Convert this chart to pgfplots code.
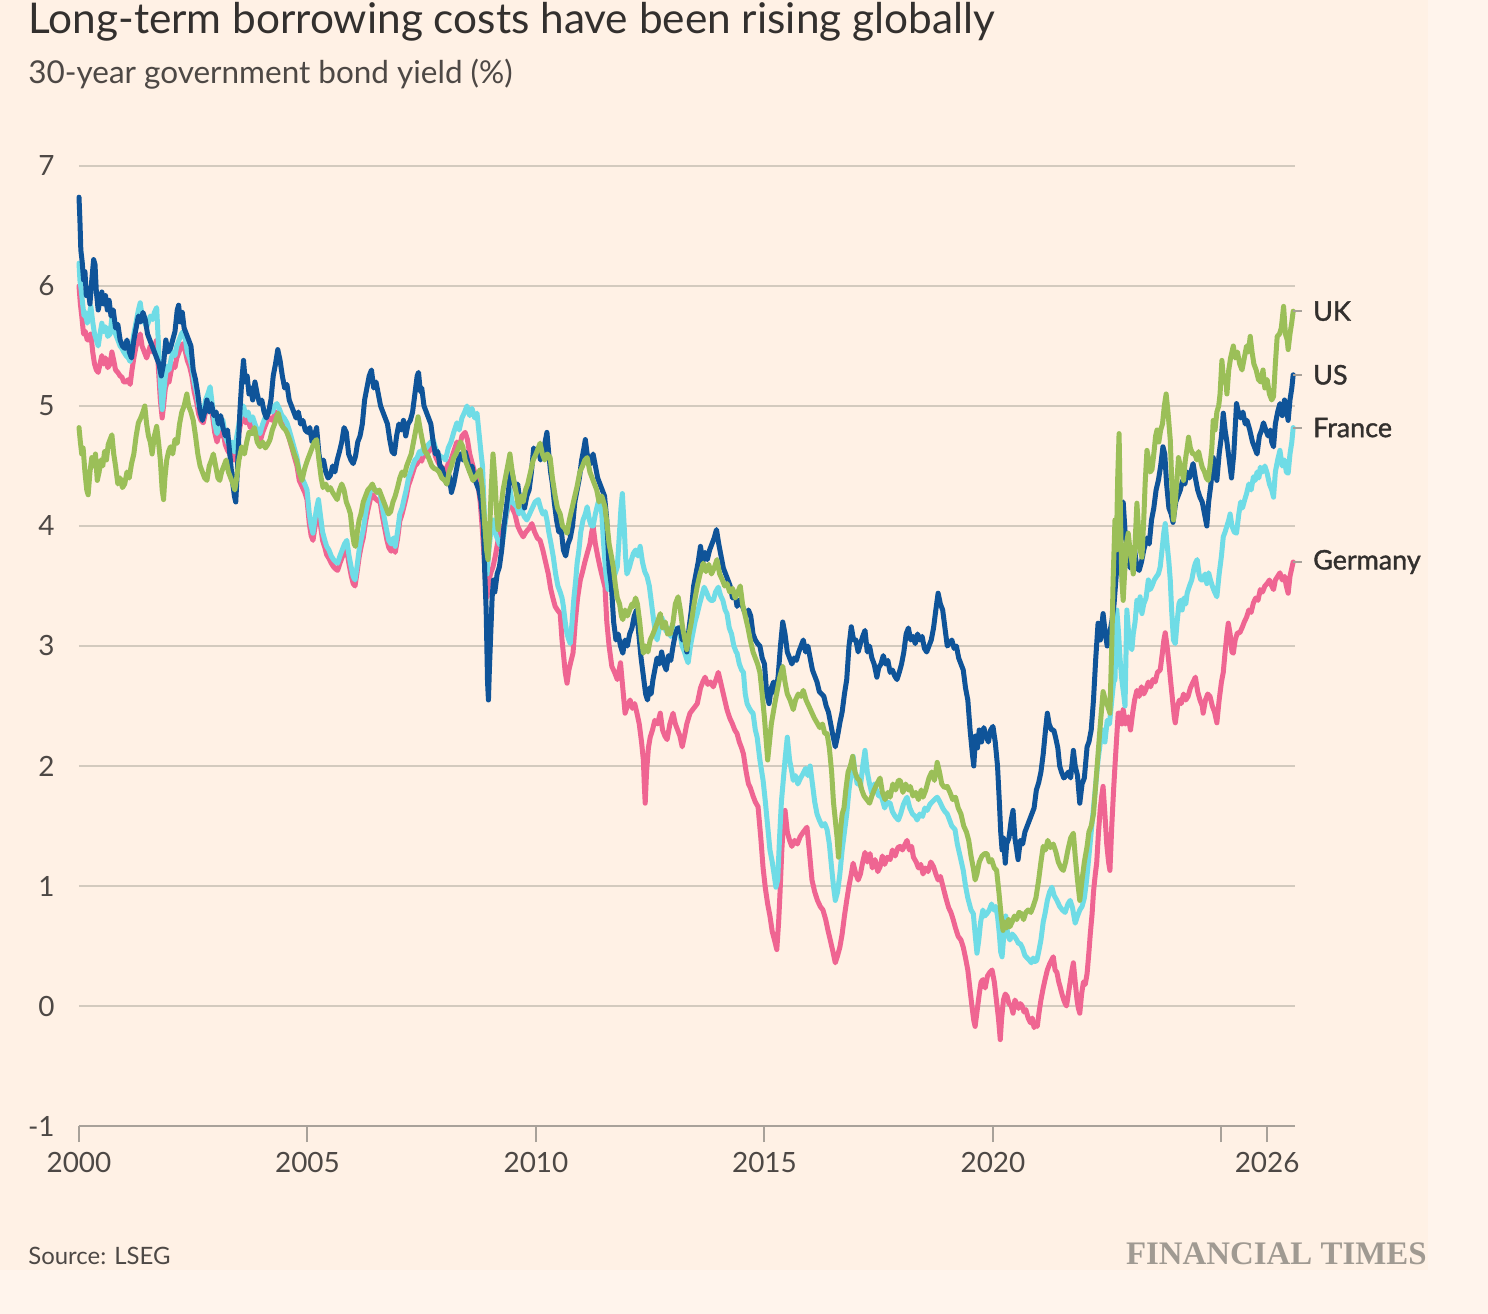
\documentclass[border=0pt]{standalone}
\usepackage{pgfplots}
\pgfplotsset{compat=1.18}
\usepackage{fontspec}
\setmainfont{Lato}
\newfontfamily\semib{Lato}[FakeBold=1.4]
\newfontfamily\ftfont{Liberation Serif}
\definecolor{bg}{HTML}{FFF1E5}
\definecolor{bgout}{HTML}{FFF4EC}
\definecolor{usc}{HTML}{0F5499}
\definecolor{ukc}{HTML}{9BBF58}
\definecolor{frc}{HTML}{6FDCE6}
\definecolor{dec}{HTML}{EF6592}
\definecolor{gridc}{HTML}{D3CABE}
\definecolor{axc}{HTML}{A8A199}
\definecolor{txt}{HTML}{33302E}
\definecolor{txt2}{HTML}{4D4845}
\definecolor{ftc}{HTML}{A09A92}
\begin{document}
\begin{tikzpicture}
\fill[bgout] (0,0) rectangle (744bp,657bp);
\fill[bg] (0,22bp) rectangle (714bp,657bp);
\node[anchor=base west, inner sep=0pt, text=txt, font=\fontsize{21.25}{25}\selectfont] at (14bp,640bp) {Long-term borrowing costs have been rising globally};
\node[anchor=base west, inner sep=0pt, text=txt2, font=\fontsize{15.8}{19}\selectfont] at (14bp,615bp) {30-year government bond yield (\%)};
\node[anchor=base west, inner sep=0pt, text=txt2, font=\fontsize{12}{14}\selectfont] at (14bp,25bp) {Source: LSEG};
\node[anchor=base east, inner sep=0pt, text=ftc, font=\ftfont\bfseries\fontsize{16.5}{19}\selectfont] at (713.5bp,25bp) {FINANCIAL TIMES};
\begin{axis}[
  at={(39.5bp,94bp)}, anchor=south west,
  scale only axis, width=608bp, height=480bp,
  x filter/.expression={x-2000},
  xmin=0, xmax=26.61, ymin=-1, ymax=7,
  clip=false,
  axis x line*=bottom, axis y line*=left,
  x axis line style={draw=axc, line width=1.1bp},
  y axis line style={draw=none},
  xtick={0,5,10,15,20,25,26},
  xticklabels={2000,2005,2010,2015,2020,,2026},
  ytick={-1,0,1,2,3,4,5,6,7},
  yticklabels={-1,0,1,2,3,4,5,6,7},
  tick align=outside,
  major tick length=8bp,
  xtick style={draw=axc, line width=1bp},
  ytick style={draw=none},
  ymajorgrids, grid style={draw=gridc, line width=1bp},
  ticklabel style={font=\fontsize{14}{16}\selectfont, text=txt2},
  xticklabel style={anchor=north, inner sep=0pt, yshift=-5bp},
  yticklabel style={anchor=east, inner sep=0pt, xshift=-4bp},
  every axis plot/.append style={line width=2.5bp, line join=round, line cap=round, mark=none},
]
% Germany
\addplot[dec] coordinates {(2000.00,6.00)(2000.03,5.85)(2000.06,5.75)(2000.10,5.60)(2000.14,5.62)(2000.18,5.55)(2000.22,5.55)(2000.26,5.60)(2000.30,5.45)(2000.34,5.35)(2000.38,5.30)(2000.42,5.28)(2000.46,5.35)(2000.50,5.42)(2000.54,5.35)(2000.58,5.40)(2000.63,5.32)(2000.68,5.35)(2000.72,5.45)(2000.76,5.38)(2000.80,5.30)(2000.85,5.28)(2000.90,5.25)(2000.94,5.24)(2000.98,5.20)(2001.03,5.20)(2001.08,5.22)(2001.12,5.18)(2001.16,5.30)(2001.20,5.40)(2001.25,5.50)(2001.30,5.55)(2001.34,5.60)(2001.38,5.50)(2001.43,5.45)(2001.48,5.40)(2001.52,5.45)(2001.56,5.50)(2001.61,5.45)(2001.65,5.50)(2001.70,5.55)(2001.74,5.30)(2001.78,5.05)(2001.82,4.90)(2001.85,5.00)(2001.89,5.15)(2001.93,5.20)(2001.97,5.20)(2002.02,5.30)(2002.06,5.35)(2002.10,5.32)(2002.14,5.40)(2002.19,5.45)(2002.24,5.50)(2002.28,5.52)(2002.33,5.45)(2002.37,5.38)(2002.42,5.33)(2002.47,5.25)(2002.52,5.12)(2002.58,5.02)(2002.62,4.93)(2002.67,4.88)(2002.72,4.86)(2002.77,4.95)(2002.82,5.00)(2002.87,5.05)(2002.92,4.92)(2002.97,4.78)(2003.02,4.70)(2003.07,4.78)(2003.11,4.75)(2003.15,4.80)(2003.20,4.68)(2003.25,4.63)(2003.30,4.60)(2003.35,4.63)(2003.40,4.55)(2003.45,4.68)(2003.50,4.78)(2003.55,4.88)(2003.60,4.93)(2003.65,4.86)(2003.70,4.88)(2003.75,4.82)(2003.80,4.85)(2003.85,4.78)(2003.90,4.74)(2003.96,4.70)(2004.02,4.78)(2004.07,4.83)(2004.12,4.88)(2004.18,4.90)(2004.23,4.88)(2004.28,4.93)(2004.33,4.95)(2004.38,4.91)(2004.44,4.85)(2004.49,4.83)(2004.55,4.79)(2004.60,4.73)(2004.66,4.65)(2004.71,4.58)(2004.77,4.50)(2004.82,4.38)(2004.88,4.33)(2004.94,4.28)(2004.99,4.22)(2005.04,4.02)(2005.08,3.92)(2005.12,3.88)(2005.16,3.98)(2005.20,4.08)(2005.24,4.12)(2005.28,4.02)(2005.33,3.88)(2005.38,3.82)(2005.42,3.76)(2005.47,3.73)(2005.52,3.69)(2005.57,3.66)(2005.62,3.64)(2005.66,3.63)(2005.71,3.69)(2005.76,3.74)(2005.81,3.78)(2005.86,3.80)(2005.91,3.68)(2005.96,3.58)(2006.00,3.52)(2006.04,3.50)(2006.08,3.60)(2006.13,3.74)(2006.18,3.84)(2006.22,3.90)(2006.27,4.03)(2006.32,4.13)(2006.38,4.23)(2006.43,4.26)(2006.48,4.23)(2006.54,4.21)(2006.59,4.20)(2006.64,4.08)(2006.69,3.98)(2006.74,3.88)(2006.78,3.82)(2006.83,3.79)(2006.88,3.84)(2006.92,3.78)(2006.97,3.89)(2007.02,4.04)(2007.07,4.10)(2007.11,4.16)(2007.16,4.24)(2007.21,4.34)(2007.25,4.38)(2007.30,4.44)(2007.35,4.50)(2007.40,4.52)(2007.45,4.56)(2007.50,4.54)(2007.54,4.60)(2007.60,4.58)(2007.65,4.62)(2007.70,4.64)(2007.75,4.66)(2007.80,4.58)(2007.86,4.53)(2007.91,4.50)(2007.97,4.48)(2008.02,4.45)(2008.08,4.52)(2008.14,4.55)(2008.20,4.62)(2008.27,4.70)(2008.32,4.65)(2008.38,4.75)(2008.45,4.78)(2008.50,4.72)(2008.55,4.60)(2008.62,4.50)(2008.68,4.42)(2008.72,4.38)(2008.78,4.20)(2008.83,3.95)(2008.89,3.60)(2008.93,3.41)(2008.97,3.55)(2009.02,3.62)(2009.06,3.66)(2009.11,3.75)(2009.17,3.88)(2009.22,3.95)(2009.28,4.00)(2009.32,4.02)(2009.38,4.15)(2009.43,4.22)(2009.48,4.15)(2009.54,4.10)(2009.60,4.00)(2009.66,3.95)(2009.72,3.91)(2009.78,3.95)(2009.85,3.98)(2009.91,4.02)(2009.97,3.95)(2010.03,3.90)(2010.09,3.88)(2010.15,3.80)(2010.21,3.70)(2010.27,3.60)(2010.32,3.48)(2010.37,3.40)(2010.42,3.33)(2010.47,3.30)(2010.53,3.27)(2010.57,3.05)(2010.61,2.90)(2010.64,2.78)(2010.68,2.69)(2010.72,2.80)(2010.77,2.88)(2010.81,2.94)(2010.86,3.20)(2010.91,3.40)(2010.97,3.55)(2011.02,3.62)(2011.07,3.70)(2011.12,3.77)(2011.18,3.85)(2011.22,3.95)(2011.25,4.00)(2011.30,3.85)(2011.35,3.75)(2011.40,3.66)(2011.45,3.58)(2011.51,3.49)(2011.55,3.20)(2011.60,3.00)(2011.66,2.83)(2011.72,2.78)(2011.78,2.72)(2011.82,2.80)(2011.85,2.86)(2011.90,2.65)(2011.95,2.44)(2012.00,2.50)(2012.06,2.55)(2012.11,2.48)(2012.16,2.52)(2012.21,2.44)(2012.26,2.35)(2012.31,2.20)(2012.35,2.05)(2012.37,1.85)(2012.39,1.69)(2012.42,1.95)(2012.46,2.15)(2012.50,2.24)(2012.55,2.30)(2012.60,2.38)(2012.66,2.35)(2012.72,2.44)(2012.77,2.30)(2012.82,2.25)(2012.87,2.22)(2012.93,2.35)(2013.00,2.44)(2013.05,2.35)(2013.10,2.30)(2013.15,2.25)(2013.20,2.16)(2013.25,2.25)(2013.30,2.35)(2013.37,2.44)(2013.45,2.48)(2013.53,2.52)(2013.60,2.65)(2013.65,2.70)(2013.70,2.74)(2013.76,2.68)(2013.82,2.70)(2013.88,2.66)(2013.94,2.72)(2013.99,2.78)(2014.04,2.70)(2014.10,2.60)(2014.18,2.47)(2014.24,2.40)(2014.30,2.35)(2014.35,2.30)(2014.40,2.27)(2014.45,2.20)(2014.50,2.15)(2014.54,2.10)(2014.60,1.95)(2014.65,1.85)(2014.69,1.82)(2014.75,1.75)(2014.80,1.70)(2014.86,1.66)(2014.92,1.40)(2014.97,1.15)(2015.02,0.98)(2015.07,0.85)(2015.12,0.75)(2015.17,0.62)(2015.22,0.55)(2015.27,0.47)(2015.31,0.70)(2015.34,0.94)(2015.38,1.30)(2015.42,1.55)(2015.45,1.63)(2015.50,1.45)(2015.55,1.38)(2015.60,1.33)(2015.66,1.38)(2015.72,1.35)(2015.78,1.41)(2015.85,1.45)(2015.93,1.49)(2015.98,1.30)(2016.04,1.05)(2016.10,0.95)(2016.16,0.88)(2016.22,0.83)(2016.28,0.80)(2016.34,0.72)(2016.39,0.63)(2016.44,0.55)(2016.50,0.45)(2016.55,0.36)(2016.60,0.42)(2016.65,0.49)(2016.70,0.60)(2016.75,0.75)(2016.80,0.88)(2016.85,1.00)(2016.90,1.10)(2016.94,1.19)(2017.00,1.10)(2017.05,1.05)(2017.10,1.10)(2017.15,1.20)(2017.20,1.28)(2017.25,1.20)(2017.31,1.27)(2017.36,1.15)(2017.42,1.22)(2017.48,1.12)(2017.53,1.16)(2017.58,1.25)(2017.63,1.18)(2017.69,1.24)(2017.75,1.22)(2017.80,1.30)(2017.86,1.25)(2017.92,1.32)(2017.97,1.33)(2018.02,1.30)(2018.08,1.35)(2018.12,1.38)(2018.17,1.30)(2018.22,1.33)(2018.26,1.24)(2018.32,1.20)(2018.37,1.15)(2018.42,1.18)(2018.47,1.10)(2018.52,1.15)(2018.58,1.12)(2018.64,1.20)(2018.70,1.16)(2018.75,1.10)(2018.80,1.05)(2018.85,1.08)(2018.91,0.99)(2018.97,0.90)(2019.03,0.82)(2019.08,0.78)(2019.13,0.72)(2019.18,0.65)(2019.24,0.58)(2019.30,0.55)(2019.35,0.49)(2019.40,0.40)(2019.45,0.30)(2019.50,0.13)(2019.54,0.00)(2019.58,-0.12)(2019.61,-0.17)(2019.65,-0.05)(2019.70,0.10)(2019.74,0.20)(2019.78,0.22)(2019.83,0.15)(2019.88,0.25)(2019.93,0.28)(2019.98,0.30)(2020.03,0.20)(2020.06,0.10)(2020.09,0.00)(2020.12,-0.10)(2020.16,-0.28)(2020.19,-0.10)(2020.23,0.05)(2020.27,0.10)(2020.31,0.08)(2020.35,0.02)(2020.40,0.00)(2020.44,-0.06)(2020.48,0.05)(2020.52,0.02)(2020.56,-0.02)(2020.60,0.02)(2020.64,0.00)(2020.68,-0.05)(2020.72,-0.03)(2020.77,-0.10)(2020.82,-0.14)(2020.86,-0.10)(2020.90,-0.18)(2020.94,-0.15)(2020.97,-0.17)(2021.01,-0.05)(2021.05,0.05)(2021.10,0.15)(2021.14,0.22)(2021.19,0.30)(2021.24,0.35)(2021.28,0.38)(2021.32,0.41)(2021.36,0.30)(2021.40,0.28)(2021.44,0.20)(2021.47,0.16)(2021.51,0.10)(2021.55,0.05)(2021.58,0.02)(2021.61,0.00)(2021.65,0.10)(2021.69,0.20)(2021.73,0.30)(2021.76,0.36)(2021.80,0.20)(2021.84,0.05)(2021.87,-0.02)(2021.90,-0.06)(2021.94,0.10)(2021.98,0.20)(2022.02,0.18)(2022.06,0.27)(2022.10,0.45)(2022.13,0.60)(2022.17,0.77)(2022.20,0.95)(2022.24,1.10)(2022.27,1.19)(2022.31,1.45)(2022.35,1.65)(2022.38,1.75)(2022.41,1.83)(2022.45,1.60)(2022.49,1.35)(2022.53,1.20)(2022.56,1.13)(2022.60,1.50)(2022.64,1.80)(2022.67,2.00)(2022.71,2.25)(2022.74,2.44)(2022.78,2.44)(2022.82,2.35)(2022.85,2.47)(2022.90,2.35)(2022.96,2.41)(2023.01,2.30)(2023.06,2.45)(2023.10,2.55)(2023.15,2.63)(2023.20,2.58)(2023.25,2.66)(2023.30,2.60)(2023.34,2.63)(2023.40,2.70)(2023.45,2.66)(2023.50,2.72)(2023.55,2.70)(2023.60,2.78)(2023.66,2.80)(2023.71,2.95)(2023.74,3.05)(2023.77,3.11)(2023.81,3.00)(2023.85,2.86)(2023.89,2.70)(2023.93,2.55)(2023.97,2.40)(2023.99,2.36)(2024.04,2.50)(2024.08,2.55)(2024.12,2.52)(2024.17,2.60)(2024.22,2.55)(2024.27,2.58)(2024.32,2.65)(2024.38,2.70)(2024.43,2.74)(2024.48,2.62)(2024.53,2.55)(2024.58,2.50)(2024.60,2.44)(2024.65,2.55)(2024.70,2.60)(2024.75,2.58)(2024.80,2.50)(2024.85,2.45)(2024.90,2.36)(2024.95,2.55)(2025.00,2.70)(2025.04,2.78)(2025.08,2.95)(2025.12,3.10)(2025.15,3.19)(2025.19,3.10)(2025.23,2.95)(2025.26,2.94)(2025.30,3.05)(2025.35,3.11)(2025.40,3.11)(2025.45,3.15)(2025.50,3.20)(2025.55,3.24)(2025.60,3.30)(2025.65,3.28)(2025.70,3.36)(2025.75,3.40)(2025.80,3.38)(2025.85,3.47)(2025.90,3.45)(2025.95,3.50)(2026.00,3.52)(2026.05,3.55)(2026.10,3.50)(2026.14,3.47)(2026.18,3.55)(2026.23,3.58)(2026.28,3.61)(2026.33,3.55)(2026.38,3.58)(2026.42,3.50)(2026.46,3.44)(2026.50,3.58)(2026.54,3.65)(2026.57,3.70)};
% France
\addplot[frc] coordinates {(2000.00,6.19)(2000.02,6.05)(2000.05,5.96)(2000.08,5.85)(2000.11,5.75)(2000.14,5.78)(2000.18,5.69)(2000.22,5.75)(2000.26,5.83)(2000.30,5.70)(2000.34,5.60)(2000.38,5.55)(2000.42,5.50)(2000.46,5.60)(2000.50,5.69)(2000.54,5.62)(2000.58,5.66)(2000.63,5.58)(2000.68,5.60)(2000.72,5.74)(2000.76,5.65)(2000.80,5.60)(2000.85,5.55)(2000.90,5.50)(2000.94,5.48)(2000.98,5.45)(2001.03,5.42)(2001.08,5.40)(2001.12,5.37)(2001.16,5.50)(2001.20,5.60)(2001.25,5.70)(2001.30,5.80)(2001.34,5.86)(2001.38,5.75)(2001.43,5.70)(2001.48,5.66)(2001.52,5.70)(2001.56,5.75)(2001.61,5.72)(2001.65,5.78)(2001.70,5.82)(2001.74,5.50)(2001.78,5.20)(2001.82,4.97)(2001.85,5.10)(2001.89,5.25)(2001.93,5.33)(2001.97,5.30)(2002.02,5.40)(2002.06,5.45)(2002.10,5.42)(2002.14,5.50)(2002.19,5.55)(2002.24,5.60)(2002.28,5.62)(2002.33,5.55)(2002.37,5.45)(2002.42,5.40)(2002.47,5.33)(2002.52,5.20)(2002.58,5.10)(2002.62,5.00)(2002.67,4.95)(2002.72,4.94)(2002.77,5.05)(2002.82,5.10)(2002.87,5.16)(2002.92,5.00)(2002.97,4.85)(2003.02,4.77)(2003.07,4.85)(2003.11,4.82)(2003.15,4.88)(2003.20,4.75)(2003.25,4.70)(2003.30,4.66)(2003.35,4.70)(2003.40,4.62)(2003.45,4.74)(2003.50,4.85)(2003.55,4.95)(2003.60,5.00)(2003.65,4.92)(2003.70,4.95)(2003.75,4.88)(2003.80,4.91)(2003.85,4.85)(2003.90,4.80)(2003.96,4.77)(2004.02,4.85)(2004.07,4.90)(2004.12,4.95)(2004.18,4.97)(2004.23,4.95)(2004.28,5.00)(2004.33,5.02)(2004.38,4.98)(2004.44,4.92)(2004.49,4.90)(2004.55,4.86)(2004.60,4.80)(2004.66,4.72)(2004.71,4.65)(2004.77,4.57)(2004.82,4.45)(2004.88,4.40)(2004.94,4.35)(2004.99,4.30)(2005.04,4.10)(2005.08,4.00)(2005.12,3.94)(2005.16,4.05)(2005.20,4.15)(2005.24,4.22)(2005.28,4.10)(2005.33,3.95)(2005.38,3.88)(2005.42,3.83)(2005.47,3.80)(2005.52,3.75)(2005.57,3.72)(2005.62,3.70)(2005.66,3.69)(2005.71,3.75)(2005.76,3.80)(2005.81,3.85)(2005.86,3.88)(2005.91,3.75)(2005.96,3.65)(2006.00,3.58)(2006.04,3.55)(2006.08,3.65)(2006.13,3.80)(2006.18,3.90)(2006.22,3.97)(2006.27,4.10)(2006.32,4.20)(2006.38,4.30)(2006.43,4.33)(2006.48,4.30)(2006.54,4.28)(2006.59,4.27)(2006.64,4.15)(2006.69,4.05)(2006.74,3.95)(2006.78,3.88)(2006.83,3.85)(2006.88,3.90)(2006.92,3.83)(2006.97,3.95)(2007.02,4.10)(2007.07,4.15)(2007.11,4.22)(2007.16,4.30)(2007.21,4.40)(2007.25,4.44)(2007.30,4.50)(2007.35,4.55)(2007.40,4.57)(2007.45,4.62)(2007.50,4.60)(2007.54,4.66)(2007.60,4.65)(2007.65,4.68)(2007.70,4.70)(2007.75,4.72)(2007.80,4.65)(2007.86,4.60)(2007.91,4.58)(2007.97,4.57)(2008.02,4.55)(2008.08,4.65)(2008.14,4.70)(2008.20,4.78)(2008.27,4.86)(2008.32,4.80)(2008.38,4.90)(2008.44,4.95)(2008.49,5.00)(2008.55,4.92)(2008.60,4.98)(2008.66,4.90)(2008.71,4.94)(2008.76,4.75)(2008.80,4.60)(2008.83,4.50)(2008.87,4.10)(2008.90,3.80)(2008.93,3.60)(2008.97,3.80)(2009.01,3.95)(2009.06,4.05)(2009.10,3.95)(2009.15,3.90)(2009.20,3.85)(2009.25,3.83)(2009.30,3.95)(2009.35,4.10)(2009.40,4.20)(2009.43,4.30)(2009.48,4.20)(2009.53,4.18)(2009.58,4.16)(2009.63,4.10)(2009.68,4.15)(2009.74,4.08)(2009.80,4.05)(2009.86,4.10)(2009.92,4.15)(2009.98,4.20)(2010.05,4.22)(2010.10,4.15)(2010.15,4.10)(2010.20,4.12)(2010.24,4.05)(2010.28,3.95)(2010.33,3.85)(2010.38,3.74)(2010.43,3.60)(2010.48,3.50)(2010.53,3.45)(2010.57,3.40)(2010.60,3.33)(2010.64,3.20)(2010.68,3.10)(2010.72,3.05)(2010.75,3.02)(2010.79,3.20)(2010.83,3.40)(2010.87,3.55)(2010.90,3.69)(2010.94,3.80)(2010.98,3.95)(2011.03,4.05)(2011.08,4.10)(2011.12,4.16)(2011.17,4.05)(2011.21,4.00)(2011.25,4.00)(2011.30,4.10)(2011.35,4.18)(2011.40,4.24)(2011.44,4.10)(2011.48,3.85)(2011.53,3.60)(2011.58,3.47)(2011.63,3.50)(2011.68,3.55)(2011.73,3.60)(2011.78,3.66)(2011.82,3.90)(2011.86,4.15)(2011.89,4.27)(2011.93,4.00)(2011.96,3.75)(2011.99,3.60)(2012.04,3.65)(2012.09,3.72)(2012.13,3.77)(2012.18,3.80)(2012.23,3.75)(2012.28,3.83)(2012.33,3.70)(2012.38,3.62)(2012.43,3.58)(2012.48,3.50)(2012.53,3.35)(2012.58,3.20)(2012.62,3.10)(2012.65,3.05)(2012.70,3.15)(2012.75,3.24)(2012.80,3.18)(2012.85,3.12)(2012.90,3.15)(2012.95,3.08)(2013.00,3.10)(2013.05,3.15)(2013.10,3.12)(2013.15,3.10)(2013.20,3.00)(2013.25,2.95)(2013.29,2.90)(2013.33,2.86)(2013.38,3.00)(2013.43,3.10)(2013.48,3.20)(2013.53,3.27)(2013.58,3.35)(2013.63,3.42)(2013.68,3.49)(2013.73,3.45)(2013.78,3.40)(2013.83,3.38)(2013.88,3.38)(2013.93,3.45)(2013.99,3.49)(2014.04,3.42)(2014.09,3.38)(2014.14,3.30)(2014.18,3.27)(2014.23,3.15)(2014.28,3.10)(2014.33,3.00)(2014.38,2.95)(2014.40,2.94)(2014.45,2.85)(2014.50,2.80)(2014.54,2.78)(2014.58,2.60)(2014.62,2.52)(2014.67,2.48)(2014.72,2.45)(2014.75,2.44)(2014.80,2.30)(2014.84,2.24)(2014.90,2.05)(2014.97,1.88)(2015.02,1.70)(2015.07,1.50)(2015.12,1.30)(2015.17,1.20)(2015.21,1.10)(2015.25,0.99)(2015.29,1.05)(2015.33,1.40)(2015.37,1.70)(2015.40,1.83)(2015.45,2.05)(2015.50,2.24)(2015.55,2.05)(2015.60,1.95)(2015.63,1.88)(2015.68,1.92)(2015.73,1.85)(2015.79,1.90)(2015.85,1.94)(2015.90,1.98)(2015.95,1.92)(2016.00,2.00)(2016.05,1.85)(2016.10,1.70)(2016.15,1.60)(2016.20,1.55)(2016.26,1.50)(2016.32,1.52)(2016.37,1.47)(2016.42,1.35)(2016.47,1.15)(2016.51,1.00)(2016.55,0.88)(2016.60,0.95)(2016.65,1.10)(2016.70,1.30)(2016.75,1.45)(2016.80,1.60)(2016.85,1.80)(2016.90,1.95)(2016.94,2.08)(2016.98,1.95)(2017.03,1.85)(2017.07,1.90)(2017.10,1.83)(2017.15,2.00)(2017.20,2.13)(2017.25,1.95)(2017.30,1.85)(2017.35,1.77)(2017.40,1.85)(2017.45,1.80)(2017.50,1.75)(2017.53,1.77)(2017.58,1.72)(2017.63,1.65)(2017.68,1.70)(2017.75,1.69)(2017.80,1.62)(2017.86,1.58)(2017.93,1.55)(2017.98,1.60)(2018.04,1.68)(2018.09,1.72)(2018.12,1.74)(2018.18,1.65)(2018.24,1.60)(2018.30,1.58)(2018.34,1.55)(2018.40,1.60)(2018.46,1.58)(2018.51,1.65)(2018.56,1.63)(2018.62,1.68)(2018.67,1.70)(2018.72,1.72)(2018.78,1.74)(2018.84,1.70)(2018.90,1.65)(2018.95,1.62)(2019.00,1.60)(2019.05,1.55)(2019.10,1.50)(2019.17,1.47)(2019.22,1.35)(2019.28,1.25)(2019.35,1.13)(2019.40,1.00)(2019.45,0.90)(2019.52,0.80)(2019.57,0.77)(2019.61,0.60)(2019.65,0.44)(2019.69,0.55)(2019.73,0.70)(2019.78,0.80)(2019.82,0.75)(2019.87,0.77)(2019.92,0.80)(2019.97,0.85)(2020.02,0.80)(2020.06,0.83)(2020.10,0.75)(2020.14,0.60)(2020.17,0.45)(2020.20,0.41)(2020.24,0.60)(2020.28,0.75)(2020.32,0.60)(2020.37,0.55)(2020.42,0.60)(2020.47,0.58)(2020.52,0.55)(2020.56,0.52)(2020.60,0.52)(2020.65,0.48)(2020.70,0.42)(2020.75,0.40)(2020.80,0.38)(2020.84,0.36)(2020.88,0.40)(2020.92,0.37)(2020.96,0.38)(2021.00,0.45)(2021.05,0.55)(2021.10,0.70)(2021.14,0.77)(2021.19,0.88)(2021.24,0.95)(2021.29,0.99)(2021.34,0.92)(2021.40,0.88)(2021.46,0.83)(2021.52,0.80)(2021.58,0.78)(2021.64,0.85)(2021.69,0.88)(2021.74,0.82)(2021.80,0.69)(2021.85,0.75)(2021.90,0.80)(2021.95,0.83)(2022.00,0.90)(2022.05,1.05)(2022.10,1.25)(2022.15,1.45)(2022.20,1.65)(2022.25,1.85)(2022.30,2.05)(2022.35,2.20)(2022.40,2.30)(2022.45,2.20)(2022.50,2.38)(2022.55,2.35)(2022.60,2.55)(2022.64,2.70)(2022.67,2.72)(2022.71,3.30)(2022.75,3.10)(2022.78,2.90)(2022.82,2.72)(2022.86,2.60)(2022.89,2.50)(2022.93,3.30)(2022.97,3.10)(2023.00,3.00)(2023.04,2.97)(2023.07,3.10)(2023.11,3.20)(2023.15,3.38)(2023.19,3.30)(2023.22,3.41)(2023.26,3.27)(2023.30,3.35)(2023.35,3.40)(2023.40,3.55)(2023.44,3.47)(2023.48,3.50)(2023.53,3.55)(2023.58,3.58)(2023.62,3.60)(2023.66,3.66)(2023.70,3.80)(2023.74,3.95)(2023.77,4.02)(2023.81,3.85)(2023.85,3.70)(2023.88,3.55)(2023.91,3.30)(2023.95,3.05)(2023.99,3.02)(2024.03,3.20)(2024.07,3.35)(2024.10,3.38)(2024.14,3.30)(2024.18,3.40)(2024.22,3.35)(2024.25,3.44)(2024.30,3.50)(2024.35,3.55)(2024.40,3.65)(2024.43,3.69)(2024.47,3.72)(2024.51,3.60)(2024.55,3.55)(2024.60,3.55)(2024.64,3.60)(2024.68,3.52)(2024.72,3.61)(2024.76,3.55)(2024.80,3.50)(2024.85,3.45)(2024.90,3.41)(2024.95,3.60)(2025.00,3.75)(2025.04,3.91)(2025.08,3.95)(2025.12,4.00)(2025.16,4.05)(2025.19,4.10)(2025.23,4.00)(2025.28,3.95)(2025.33,3.94)(2025.38,4.10)(2025.42,4.20)(2025.46,4.15)(2025.51,4.22)(2025.55,4.27)(2025.60,4.35)(2025.65,4.30)(2025.70,4.41)(2025.74,4.38)(2025.78,4.45)(2025.82,4.40)(2025.85,4.49)(2025.90,4.45)(2025.95,4.50)(2026.00,4.44)(2026.05,4.35)(2026.10,4.30)(2026.14,4.24)(2026.18,4.45)(2026.23,4.55)(2026.28,4.63)(2026.33,4.50)(2026.38,4.55)(2026.42,4.45)(2026.46,4.44)(2026.50,4.60)(2026.54,4.70)(2026.57,4.82)};
% US
\addplot[usc] coordinates {(2000.00,6.74)(2000.02,6.55)(2000.04,6.30)(2000.07,6.20)(2000.10,6.05)(2000.13,6.12)(2000.16,5.92)(2000.20,5.98)(2000.24,5.85)(2000.28,6.05)(2000.32,6.22)(2000.35,6.18)(2000.38,5.95)(2000.42,5.80)(2000.46,5.88)(2000.50,5.95)(2000.54,5.85)(2000.58,5.92)(2000.62,5.80)(2000.66,5.88)(2000.70,5.75)(2000.75,5.80)(2000.80,5.65)(2000.85,5.68)(2000.90,5.55)(2000.95,5.50)(2001.00,5.48)(2001.05,5.55)(2001.10,5.45)(2001.15,5.40)(2001.20,5.55)(2001.25,5.65)(2001.30,5.75)(2001.35,5.70)(2001.40,5.78)(2001.45,5.72)(2001.50,5.60)(2001.55,5.55)(2001.60,5.50)(2001.65,5.45)(2001.70,5.40)(2001.75,5.35)(2001.80,5.25)(2001.85,5.35)(2001.90,5.55)(2001.95,5.45)(2002.00,5.48)(2002.05,5.55)(2002.10,5.62)(2002.15,5.80)(2002.18,5.84)(2002.22,5.70)(2002.26,5.78)(2002.30,5.65)(2002.35,5.60)(2002.40,5.55)(2002.45,5.50)(2002.50,5.30)(2002.55,5.22)(2002.60,5.10)(2002.65,4.95)(2002.70,4.88)(2002.75,4.95)(2002.80,5.05)(2002.85,4.95)(2002.90,5.02)(2002.95,4.92)(2003.00,4.95)(2003.05,4.85)(2003.10,4.92)(2003.15,4.82)(2003.20,4.75)(2003.25,4.80)(2003.30,4.60)(2003.35,4.40)(2003.40,4.25)(2003.43,4.20)(2003.47,4.50)(2003.52,4.95)(2003.56,5.20)(2003.60,5.38)(2003.64,5.20)(2003.68,5.25)(2003.72,5.10)(2003.76,5.15)(2003.80,5.05)(2003.85,5.20)(2003.90,5.10)(2003.95,5.02)(2004.00,5.05)(2004.05,4.95)(2004.10,4.90)(2004.15,4.95)(2004.20,5.05)(2004.25,5.25)(2004.30,5.35)(2004.35,5.47)(2004.40,5.38)(2004.45,5.25)(2004.50,5.15)(2004.55,5.18)(2004.60,5.05)(2004.65,5.00)(2004.70,4.95)(2004.75,4.90)(2004.80,4.95)(2004.85,4.85)(2004.90,4.88)(2004.95,4.80)(2005.00,4.78)(2005.05,4.82)(2005.10,4.70)(2005.15,4.75)(2005.20,4.82)(2005.25,4.60)(2005.30,4.50)(2005.35,4.55)(2005.40,4.45)(2005.45,4.40)(2005.50,4.42)(2005.55,4.50)(2005.60,4.45)(2005.65,4.55)(2005.70,4.62)(2005.75,4.70)(2005.80,4.82)(2005.85,4.78)(2005.90,4.60)(2005.95,4.55)(2006.00,4.52)(2006.05,4.58)(2006.10,4.70)(2006.15,4.75)(2006.20,4.85)(2006.25,5.05)(2006.30,5.15)(2006.35,5.25)(2006.40,5.30)(2006.45,5.15)(2006.50,5.20)(2006.55,5.10)(2006.60,5.00)(2006.65,4.95)(2006.70,4.90)(2006.75,4.85)(2006.80,4.72)(2006.85,4.62)(2006.90,4.60)(2006.95,4.75)(2007.00,4.85)(2007.05,4.80)(2007.10,4.88)(2007.15,4.75)(2007.20,4.85)(2007.25,4.88)(2007.30,4.95)(2007.35,5.10)(2007.40,5.25)(2007.43,5.28)(2007.47,5.12)(2007.50,5.15)(2007.55,5.00)(2007.60,4.95)(2007.65,4.90)(2007.70,4.85)(2007.75,4.70)(2007.80,4.60)(2007.85,4.62)(2007.90,4.50)(2007.95,4.48)(2008.00,4.40)(2008.05,4.35)(2008.10,4.42)(2008.15,4.28)(2008.20,4.35)(2008.25,4.45)(2008.30,4.55)(2008.35,4.60)(2008.40,4.55)(2008.45,4.62)(2008.50,4.55)(2008.55,4.45)(2008.60,4.50)(2008.65,4.40)(2008.70,4.35)(2008.75,4.30)(2008.80,4.20)(2008.85,4.00)(2008.88,3.60)(2008.91,3.30)(2008.94,2.70)(2008.96,2.55)(2008.98,2.80)(2009.01,3.10)(2009.04,3.40)(2009.07,3.55)(2009.10,3.45)(2009.15,3.60)(2009.20,3.66)(2009.25,3.80)(2009.30,4.00)(2009.35,4.15)(2009.40,4.30)(2009.45,4.50)(2009.50,4.40)(2009.55,4.30)(2009.60,4.35)(2009.65,4.20)(2009.70,4.25)(2009.75,4.15)(2009.80,4.25)(2009.85,4.30)(2009.90,4.45)(2009.95,4.65)(2010.00,4.60)(2010.05,4.65)(2010.10,4.55)(2010.15,4.60)(2010.20,4.70)(2010.24,4.78)(2010.28,4.60)(2010.32,4.45)(2010.36,4.35)(2010.40,4.20)(2010.45,4.05)(2010.50,3.95)(2010.55,3.98)(2010.60,3.80)(2010.65,3.75)(2010.70,3.85)(2010.75,3.90)(2010.80,4.00)(2010.85,4.20)(2010.90,4.30)(2010.95,4.40)(2011.00,4.55)(2011.05,4.65)(2011.08,4.72)(2011.12,4.60)(2011.16,4.55)(2011.20,4.52)(2011.25,4.60)(2011.30,4.50)(2011.35,4.40)(2011.40,4.35)(2011.45,4.30)(2011.50,4.25)(2011.55,4.05)(2011.60,3.65)(2011.65,3.50)(2011.70,3.20)(2011.75,3.05)(2011.80,3.10)(2011.85,3.00)(2011.90,2.94)(2011.95,3.05)(2012.00,3.00)(2012.05,3.10)(2012.10,3.15)(2012.15,3.25)(2012.20,3.30)(2012.25,3.10)(2012.30,2.90)(2012.35,2.75)(2012.40,2.60)(2012.44,2.55)(2012.48,2.65)(2012.52,2.60)(2012.56,2.72)(2012.60,2.80)(2012.65,2.90)(2012.70,2.85)(2012.75,2.95)(2012.80,2.85)(2012.85,2.80)(2012.90,2.92)(2012.95,2.88)(2013.00,3.00)(2013.05,3.10)(2013.10,3.15)(2013.15,3.15)(2013.20,3.05)(2013.25,3.10)(2013.30,2.95)(2013.35,3.15)(2013.40,3.30)(2013.45,3.50)(2013.50,3.60)(2013.55,3.70)(2013.60,3.83)(2013.65,3.70)(2013.70,3.78)(2013.75,3.72)(2013.80,3.80)(2013.85,3.85)(2013.90,3.90)(2013.95,3.97)(2014.00,3.85)(2014.05,3.75)(2014.10,3.65)(2014.15,3.60)(2014.20,3.55)(2014.25,3.50)(2014.30,3.40)(2014.35,3.45)(2014.40,3.33)(2014.45,3.38)(2014.50,3.35)(2014.55,3.30)(2014.60,3.25)(2014.65,3.30)(2014.70,3.25)(2014.75,3.10)(2014.80,3.05)(2014.85,3.02)(2014.90,3.00)(2014.95,2.90)(2015.00,2.85)(2015.05,2.60)(2015.10,2.52)(2015.15,2.65)(2015.20,2.70)(2015.25,2.60)(2015.30,2.75)(2015.35,3.00)(2015.40,3.20)(2015.45,3.10)(2015.50,2.95)(2015.55,2.90)(2015.60,2.85)(2015.65,2.90)(2015.70,2.88)(2015.75,2.95)(2015.80,3.00)(2015.85,3.05)(2015.90,2.95)(2015.95,3.00)(2016.00,2.90)(2016.05,2.80)(2016.10,2.75)(2016.15,2.70)(2016.20,2.62)(2016.25,2.60)(2016.30,2.58)(2016.35,2.50)(2016.40,2.45)(2016.45,2.35)(2016.50,2.25)(2016.55,2.16)(2016.60,2.25)(2016.65,2.36)(2016.70,2.45)(2016.75,2.60)(2016.80,2.72)(2016.85,3.00)(2016.90,3.16)(2016.95,3.05)(2017.00,3.05)(2017.05,2.95)(2017.10,3.02)(2017.15,3.08)(2017.20,3.13)(2017.25,2.95)(2017.30,3.00)(2017.35,2.90)(2017.40,2.85)(2017.46,2.74)(2017.50,2.82)(2017.55,2.85)(2017.60,2.92)(2017.65,2.85)(2017.70,2.88)(2017.75,2.78)(2017.80,2.80)(2017.85,2.75)(2017.90,2.72)(2017.95,2.78)(2018.00,2.85)(2018.05,2.95)(2018.10,3.10)(2018.15,3.15)(2018.20,3.05)(2018.25,3.08)(2018.30,3.02)(2018.35,3.10)(2018.40,3.05)(2018.45,3.08)(2018.50,2.98)(2018.55,2.95)(2018.60,3.00)(2018.65,3.05)(2018.70,3.15)(2018.75,3.30)(2018.80,3.44)(2018.85,3.35)(2018.90,3.30)(2018.95,3.15)(2019.00,3.00)(2019.05,3.02)(2019.10,3.05)(2019.15,2.98)(2019.20,3.00)(2019.25,2.90)(2019.30,2.85)(2019.35,2.80)(2019.40,2.65)(2019.45,2.55)(2019.50,2.30)(2019.55,2.10)(2019.58,2.00)(2019.62,2.25)(2019.66,2.15)(2019.70,2.30)(2019.75,2.20)(2019.80,2.32)(2019.85,2.25)(2019.90,2.20)(2019.95,2.30)(2020.00,2.33)(2020.05,2.20)(2020.10,2.00)(2020.14,1.70)(2020.17,1.45)(2020.20,1.30)(2020.23,1.40)(2020.27,1.19)(2020.30,1.35)(2020.35,1.40)(2020.40,1.55)(2020.44,1.63)(2020.48,1.40)(2020.52,1.30)(2020.55,1.22)(2020.60,1.38)(2020.65,1.35)(2020.70,1.45)(2020.75,1.50)(2020.80,1.55)(2020.85,1.60)(2020.90,1.65)(2020.95,1.80)(2021.00,1.86)(2021.05,1.95)(2021.10,2.10)(2021.15,2.30)(2021.19,2.44)(2021.23,2.35)(2021.28,2.30)(2021.33,2.30)(2021.37,2.24)(2021.42,2.15)(2021.46,2.00)(2021.50,1.95)(2021.55,1.90)(2021.60,1.92)(2021.65,1.95)(2021.70,1.90)(2021.76,2.13)(2021.80,2.00)(2021.85,1.92)(2021.90,1.69)(2021.95,1.85)(2022.00,1.90)(2022.06,2.16)(2022.10,2.20)(2022.15,2.30)(2022.20,2.55)(2022.25,2.90)(2022.30,3.19)(2022.35,3.05)(2022.41,3.27)(2022.46,3.10)(2022.50,3.00)(2022.55,3.10)(2022.60,3.20)(2022.65,3.35)(2022.70,3.60)(2022.75,3.95)(2022.80,4.15)(2022.85,4.20)(2022.90,3.90)(2022.95,3.80)(2023.00,3.65)(2023.05,3.70)(2023.10,3.80)(2023.15,3.65)(2023.20,3.63)(2023.25,3.70)(2023.30,3.80)(2023.37,3.90)(2023.42,3.85)(2023.47,4.05)(2023.52,4.15)(2023.57,4.30)(2023.62,4.38)(2023.67,4.50)(2023.72,4.66)(2023.76,4.60)(2023.80,4.35)(2023.85,4.15)(2023.90,4.10)(2023.94,4.03)(2024.00,4.20)(2024.05,4.25)(2024.10,4.30)(2024.15,4.38)(2024.20,4.35)(2024.25,4.45)(2024.30,4.40)(2024.38,4.52)(2024.43,4.40)(2024.48,4.30)(2024.53,4.24)(2024.58,4.20)(2024.63,4.10)(2024.68,4.00)(2024.72,4.20)(2024.77,4.35)(2024.82,4.57)(2024.86,4.45)(2024.90,4.38)(2024.95,4.60)(2025.00,4.75)(2025.04,4.94)(2025.08,4.80)(2025.12,4.70)(2025.17,4.55)(2025.22,4.40)(2025.27,4.60)(2025.33,5.02)(2025.37,4.95)(2025.42,4.90)(2025.47,4.95)(2025.52,4.85)(2025.56,4.88)(2025.62,4.80)(2025.68,4.70)(2025.73,4.65)(2025.78,4.60)(2025.83,4.75)(2025.88,4.80)(2025.92,4.86)(2025.97,4.80)(2026.02,4.75)(2026.07,4.80)(2026.10,4.70)(2026.14,4.66)(2026.18,4.85)(2026.23,4.95)(2026.28,5.02)(2026.33,4.92)(2026.38,5.05)(2026.43,4.95)(2026.46,4.88)(2026.50,5.05)(2026.54,5.15)(2026.57,5.26)};
% UK
\addplot[ukc] coordinates {(2000.00,4.82)(2000.03,4.70)(2000.06,4.60)(2000.09,4.65)(2000.13,4.45)(2000.17,4.30)(2000.20,4.26)(2000.24,4.45)(2000.28,4.57)(2000.32,4.50)(2000.36,4.60)(2000.40,4.38)(2000.44,4.45)(2000.48,4.55)(2000.52,4.50)(2000.56,4.62)(2000.60,4.55)(2000.64,4.68)(2000.68,4.72)(2000.72,4.76)(2000.76,4.60)(2000.80,4.50)(2000.85,4.35)(2000.90,4.40)(2000.95,4.32)(2001.00,4.35)(2001.05,4.45)(2001.10,4.40)(2001.15,4.52)(2001.20,4.60)(2001.25,4.75)(2001.30,4.86)(2001.35,4.90)(2001.40,4.95)(2001.44,5.00)(2001.48,4.85)(2001.52,4.75)(2001.56,4.70)(2001.60,4.60)(2001.65,4.75)(2001.70,4.83)(2001.74,4.70)(2001.78,4.55)(2001.82,4.30)(2001.85,4.22)(2001.88,4.40)(2001.92,4.55)(2001.96,4.62)(2002.00,4.66)(2002.05,4.60)(2002.10,4.72)(2002.15,4.69)(2002.20,4.85)(2002.25,4.95)(2002.30,5.00)(2002.36,5.10)(2002.40,5.00)(2002.45,4.95)(2002.50,4.88)(2002.55,4.75)(2002.60,4.60)(2002.65,4.50)(2002.70,4.45)(2002.75,4.40)(2002.80,4.38)(2002.85,4.50)(2002.90,4.55)(2002.94,4.60)(2003.00,4.48)(2003.04,4.40)(2003.08,4.38)(2003.12,4.45)(2003.17,4.50)(2003.22,4.55)(2003.27,4.45)(2003.32,4.40)(2003.37,4.35)(2003.41,4.30)(2003.45,4.40)(2003.50,4.55)(2003.56,4.66)(2003.62,4.60)(2003.67,4.70)(2003.72,4.78)(2003.78,4.77)(2003.84,4.82)(2003.90,4.70)(2003.96,4.66)(2004.02,4.70)(2004.08,4.65)(2004.13,4.68)(2004.18,4.72)(2004.23,4.80)(2004.28,4.85)(2004.32,4.90)(2004.36,4.94)(2004.42,4.85)(2004.47,4.82)(2004.52,4.80)(2004.56,4.77)(2004.61,4.72)(2004.66,4.66)(2004.71,4.60)(2004.76,4.55)(2004.82,4.45)(2004.88,4.38)(2004.94,4.48)(2005.00,4.55)(2005.05,4.60)(2005.10,4.65)(2005.15,4.70)(2005.20,4.72)(2005.25,4.55)(2005.30,4.40)(2005.34,4.32)(2005.40,4.35)(2005.45,4.30)(2005.50,4.32)(2005.55,4.28)(2005.60,4.25)(2005.65,4.22)(2005.70,4.30)(2005.75,4.35)(2005.80,4.30)(2005.85,4.20)(2005.90,4.15)(2005.94,4.10)(2005.98,3.95)(2006.02,3.85)(2006.05,3.83)(2006.09,3.95)(2006.13,4.05)(2006.17,4.10)(2006.22,4.20)(2006.27,4.25)(2006.32,4.30)(2006.37,4.32)(2006.42,4.35)(2006.47,4.30)(2006.52,4.28)(2006.57,4.30)(2006.62,4.25)(2006.67,4.20)(2006.72,4.15)(2006.77,4.10)(2006.82,4.12)(2006.87,4.20)(2006.92,4.25)(2006.97,4.32)(2007.02,4.40)(2007.07,4.45)(2007.12,4.42)(2007.17,4.50)(2007.22,4.55)(2007.27,4.60)(2007.32,4.70)(2007.37,4.80)(2007.42,4.91)(2007.47,4.80)(2007.52,4.70)(2007.57,4.62)(2007.62,4.60)(2007.67,4.55)(2007.72,4.50)(2007.77,4.48)(2007.83,4.47)(2007.88,4.45)(2007.94,4.40)(2008.00,4.38)(2008.05,4.35)(2008.10,4.45)(2008.15,4.50)(2008.20,4.57)(2008.25,4.60)(2008.30,4.65)(2008.35,4.70)(2008.40,4.66)(2008.45,4.55)(2008.50,4.50)(2008.55,4.45)(2008.62,4.38)(2008.70,4.42)(2008.78,4.47)(2008.83,4.30)(2008.88,4.00)(2008.92,3.80)(2008.95,3.72)(2008.98,3.90)(2009.02,4.30)(2009.06,4.60)(2009.10,4.40)(2009.14,4.10)(2009.17,3.97)(2009.21,4.10)(2009.25,4.20)(2009.28,4.30)(2009.33,4.40)(2009.38,4.50)(2009.43,4.60)(2009.48,4.45)(2009.53,4.35)(2009.58,4.25)(2009.62,4.16)(2009.67,4.25)(2009.72,4.20)(2009.77,4.30)(2009.82,4.35)(2009.88,4.45)(2009.94,4.55)(2010.00,4.60)(2010.05,4.65)(2010.09,4.69)(2010.14,4.60)(2010.19,4.55)(2010.25,4.60)(2010.31,4.57)(2010.36,4.40)(2010.42,4.25)(2010.47,4.15)(2010.53,4.10)(2010.58,4.00)(2010.63,3.98)(2010.68,3.94)(2010.73,4.05)(2010.79,4.15)(2010.85,4.25)(2010.90,4.33)(2010.96,4.45)(2011.02,4.50)(2011.07,4.55)(2011.12,4.57)(2011.18,4.45)(2011.23,4.40)(2011.28,4.35)(2011.33,4.30)(2011.38,4.20)(2011.44,4.25)(2011.51,4.16)(2011.56,4.00)(2011.60,3.85)(2011.65,3.75)(2011.69,3.66)(2011.74,3.50)(2011.78,3.40)(2011.83,3.35)(2011.87,3.25)(2011.90,3.22)(2011.95,3.30)(2012.00,3.25)(2012.05,3.30)(2012.10,3.35)(2012.13,3.33)(2012.18,3.40)(2012.22,3.35)(2012.27,3.20)(2012.31,3.05)(2012.35,2.94)(2012.40,3.00)(2012.45,2.95)(2012.50,3.05)(2012.56,3.10)(2012.61,3.15)(2012.66,3.20)(2012.72,3.27)(2012.77,3.15)(2012.83,3.20)(2012.88,3.10)(2012.94,3.10)(2013.00,3.20)(2013.05,3.35)(2013.11,3.41)(2013.16,3.30)(2013.21,3.15)(2013.26,3.05)(2013.30,2.97)(2013.35,3.10)(2013.40,3.20)(2013.46,3.35)(2013.53,3.50)(2013.59,3.60)(2013.66,3.69)(2013.72,3.62)(2013.78,3.68)(2013.84,3.60)(2013.90,3.65)(2013.96,3.72)(2014.02,3.60)(2014.08,3.55)(2014.13,3.50)(2014.18,3.52)(2014.24,3.45)(2014.30,3.48)(2014.36,3.40)(2014.42,3.45)(2014.47,3.50)(2014.52,3.35)(2014.58,3.25)(2014.64,3.15)(2014.69,3.05)(2014.75,2.95)(2014.80,2.90)(2014.85,2.85)(2014.90,2.78)(2014.95,2.60)(2015.00,2.40)(2015.04,2.20)(2015.07,2.05)(2015.11,2.20)(2015.15,2.35)(2015.19,2.44)(2015.24,2.55)(2015.29,2.65)(2015.34,2.75)(2015.40,2.83)(2015.45,2.70)(2015.50,2.60)(2015.56,2.55)(2015.63,2.47)(2015.68,2.55)(2015.74,2.60)(2015.80,2.58)(2015.85,2.63)(2015.91,2.55)(2015.97,2.50)(2016.03,2.45)(2016.09,2.40)(2016.15,2.36)(2016.21,2.32)(2016.27,2.35)(2016.32,2.27)(2016.37,2.27)(2016.42,2.15)(2016.47,1.95)(2016.51,1.70)(2016.55,1.55)(2016.59,1.40)(2016.62,1.24)(2016.66,1.45)(2016.70,1.60)(2016.74,1.65)(2016.78,1.80)(2016.83,1.95)(2016.88,2.00)(2016.93,2.08)(2016.98,1.95)(2017.03,1.90)(2017.08,1.88)(2017.13,1.80)(2017.18,1.75)(2017.24,1.72)(2017.30,1.69)(2017.35,1.75)(2017.40,1.80)(2017.46,1.85)(2017.53,1.90)(2017.58,1.78)(2017.64,1.72)(2017.70,1.78)(2017.75,1.74)(2017.81,1.85)(2017.87,1.80)(2017.93,1.88)(2017.97,1.88)(2018.03,1.78)(2018.09,1.85)(2018.15,1.80)(2018.19,1.83)(2018.25,1.75)(2018.31,1.78)(2018.37,1.72)(2018.43,1.80)(2018.47,1.74)(2018.53,1.80)(2018.60,1.90)(2018.66,1.95)(2018.72,1.88)(2018.78,2.03)(2018.83,1.95)(2018.88,1.85)(2018.94,1.82)(2019.00,1.83)(2019.06,1.78)(2019.12,1.72)(2019.18,1.74)(2019.24,1.65)(2019.30,1.60)(2019.36,1.50)(2019.42,1.45)(2019.47,1.38)(2019.52,1.25)(2019.57,1.15)(2019.61,1.05)(2019.65,1.10)(2019.70,1.20)(2019.76,1.25)(2019.82,1.27)(2019.87,1.27)(2019.92,1.20)(2019.97,1.22)(2020.03,1.15)(2020.08,1.13)(2020.13,0.95)(2020.18,0.75)(2020.22,0.63)(2020.26,0.70)(2020.30,0.65)(2020.34,0.72)(2020.37,0.66)(2020.42,0.70)(2020.47,0.75)(2020.52,0.72)(2020.57,0.78)(2020.62,0.77)(2020.67,0.72)(2020.72,0.78)(2020.77,0.80)(2020.83,0.78)(2020.88,0.83)(2020.94,0.90)(2021.00,1.05)(2021.05,1.20)(2021.10,1.33)(2021.15,1.30)(2021.20,1.38)(2021.26,1.32)(2021.32,1.35)(2021.38,1.28)(2021.43,1.20)(2021.49,1.15)(2021.54,1.13)(2021.59,1.20)(2021.64,1.30)(2021.70,1.40)(2021.76,1.44)(2021.80,1.25)(2021.85,1.05)(2021.90,0.88)(2021.95,1.05)(2022.00,1.20)(2022.06,1.33)(2022.10,1.45)(2022.15,1.50)(2022.20,1.60)(2022.25,1.85)(2022.30,2.10)(2022.35,2.35)(2022.41,2.62)(2022.46,2.55)(2022.51,2.50)(2022.56,2.44)(2022.60,3.00)(2022.63,3.55)(2022.67,4.05)(2022.70,3.80)(2022.73,4.40)(2022.76,4.77)(2022.79,4.10)(2022.82,3.55)(2022.85,3.38)(2022.88,3.60)(2022.92,3.85)(2022.96,3.94)(2023.00,3.80)(2023.04,3.70)(2023.07,3.60)(2023.11,3.85)(2023.15,4.19)(2023.19,3.95)(2023.22,3.80)(2023.26,3.74)(2023.30,4.05)(2023.33,4.35)(2023.37,4.63)(2023.41,4.55)(2023.44,4.45)(2023.48,4.47)(2023.52,4.60)(2023.56,4.75)(2023.59,4.80)(2023.63,4.70)(2023.67,4.80)(2023.71,4.85)(2023.75,5.00)(2023.79,5.10)(2023.83,4.95)(2023.88,4.72)(2023.91,4.40)(2023.95,4.05)(2023.99,4.20)(2024.03,4.40)(2024.06,4.57)(2024.10,4.50)(2024.14,4.45)(2024.17,4.38)(2024.21,4.55)(2024.25,4.65)(2024.28,4.74)(2024.32,4.65)(2024.37,4.60)(2024.42,4.60)(2024.46,4.55)(2024.50,4.62)(2024.54,4.55)(2024.58,4.49)(2024.63,4.45)(2024.67,4.40)(2024.71,4.38)(2024.75,4.50)(2024.79,4.65)(2024.82,4.88)(2024.86,4.80)(2024.90,4.95)(2024.94,5.00)(2024.97,5.10)(2025.01,5.38)(2025.05,5.20)(2025.09,5.25)(2025.12,5.10)(2025.16,5.30)(2025.20,5.40)(2025.26,5.50)(2025.30,5.40)(2025.35,5.45)(2025.40,5.35)(2025.45,5.30)(2025.50,5.40)(2025.55,5.50)(2025.59,5.45)(2025.63,5.58)(2025.67,5.45)(2025.71,5.35)(2025.76,5.30)(2025.81,5.22)(2025.86,5.20)(2025.91,5.30)(2025.95,5.15)(2026.00,5.22)(2026.05,5.10)(2026.10,5.05)(2026.14,5.08)(2026.18,5.35)(2026.22,5.58)(2026.27,5.60)(2026.31,5.65)(2026.36,5.83)(2026.40,5.60)(2026.44,5.55)(2026.46,5.47)(2026.50,5.60)(2026.54,5.70)(2026.57,5.79)};
\coordinate (ukend) at (rel axis cs:0.9985,0.84875);
\coordinate (usend) at (rel axis cs:0.9985,0.7825);
\coordinate (frend) at (rel axis cs:0.9985,0.7275);
\coordinate (deend) at (rel axis cs:0.9985,0.5875);
\end{axis}
\tikzset{lab/.style={right, inner sep=0pt, xshift=5bp, text=txt, font=\semib\fontsize{13.5}{16}\selectfont}}
\draw[axc, line width=1bp] (ukend) -- ++(4.5bp,0) node[lab]{UK};
\draw[axc, line width=1bp] (usend) -- ++(4.5bp,0) node[lab]{US};
\draw[axc, line width=1bp] (frend) -- ++(4.5bp,0) node[lab]{France};
\draw[axc, line width=1bp] (deend) -- ++(4.5bp,0) node[lab]{Germany};
\end{tikzpicture}
\end{document}
